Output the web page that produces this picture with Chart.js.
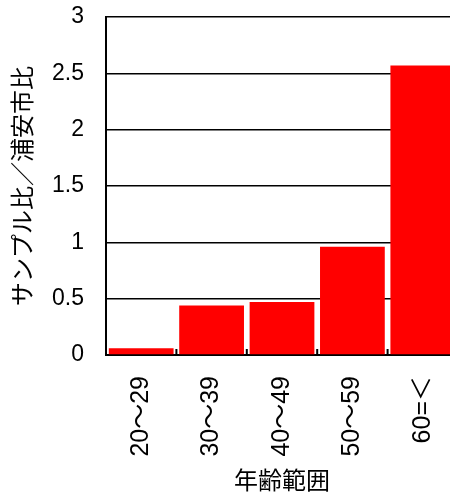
<!DOCTYPE html>
<html>
<head>
<meta charset="utf-8">
<script src="https://cdn.jsdelivr.net/npm/chart.js@4"></script>
<style>
  html, body { margin: 0; padding: 0; background: #fff; overflow: hidden; }
  #wrap { width: 460px; height: 495px; position: relative; }
</style>
</head>
<body>
<div id="wrap"><canvas id="c" width="460" height="495"></canvas></div>
<script>
// Age bands and the sample-to-city ratio for each band
const categories = ['20～29', '30～39', '40～49', '50～59', '60=＜'];
const ratios = [0.06, 0.44, 0.47, 0.96, 2.57];
const yTicks = [0, 0.5, 1, 1.5, 2, 2.5, 3];

const FONT = "'Liberation Sans', 'Noto Sans CJK JP', sans-serif";

// Short inward tick marks at the category boundaries on the bottom axis
const boundaryTicks = {
  id: 'boundaryTicks',
  afterDatasetsDraw(chart) {
    const x = chart.scales.x;
    const y0 = chart.chartArea.bottom;
    const ctx = chart.ctx;
    ctx.save();
    ctx.strokeStyle = '#000';
    ctx.lineWidth = 2;
    ctx.beginPath();
    for (let i = 0; i < categories.length - 1; i++) {
      const px = (x.getPixelForValue(i) + x.getPixelForValue(i + 1)) / 2;
      ctx.moveTo(px, y0);
      ctx.lineTo(px, y0 - 6);
    }
    ctx.stroke();
    ctx.restore();
  }
};

new Chart(document.getElementById('c'), {
  type: 'bar',
  data: {
    labels: categories,
    datasets: [{
      data: ratios,
      backgroundColor: '#ff0000',
      borderWidth: 0,
      barPercentage: 0.92,
      categoryPercentage: 1.0
    }]
  },
  options: {
    responsive: false,
    animation: false,
    events: [],
    layout: { padding: { left: 0, top: 17, right: 2, bottom: 0 } },
    plugins: { legend: { display: false }, tooltip: { enabled: false } },
    scales: {
      x: {
        grid: { display: false, drawTicks: false },
        border: { display: true, color: '#000', width: 2 },
        ticks: {
          color: '#000',
          font: { family: FONT, size: 25 },
          minRotation: 90,
          maxRotation: 90,
          padding: 21
        },
        title: {
          display: true,
          text: '年齢範囲',
          color: '#000',
          font: { family: FONT, size: 24 },
          padding: { top: 0, bottom: -2 }
        },
        afterFit(scale) {
          scale.height = 140;
          scale.paddingLeft = 0;
          scale.paddingRight = 0;
        }
      },
      y: {
        min: 0,
        max: 3,
        afterBuildTicks(scale) { scale.ticks = yTicks.map(v => ({ value: v })); },
        grid: { color: '#000', lineWidth: 1.5, drawTicks: false },
        border: { display: true, color: '#000', width: 2 },
        ticks: {
          color: '#000',
          font: { family: FONT, size: 23 },
          padding: 22,
          callback: v => String(v)
        },
        title: {
          display: true,
          text: 'サンプル比／浦安市比',
          color: '#000',
          font: { family: FONT, size: 24 },
          padding: { top: 10, bottom: 0 }
        },
        afterFit(scale) {
          scale.width = 106;
          scale.paddingTop = 0;
          scale.paddingBottom = 0;
        }
      }
    }
  },
  plugins: [boundaryTicks]
});
</script>
</body>
</html>
